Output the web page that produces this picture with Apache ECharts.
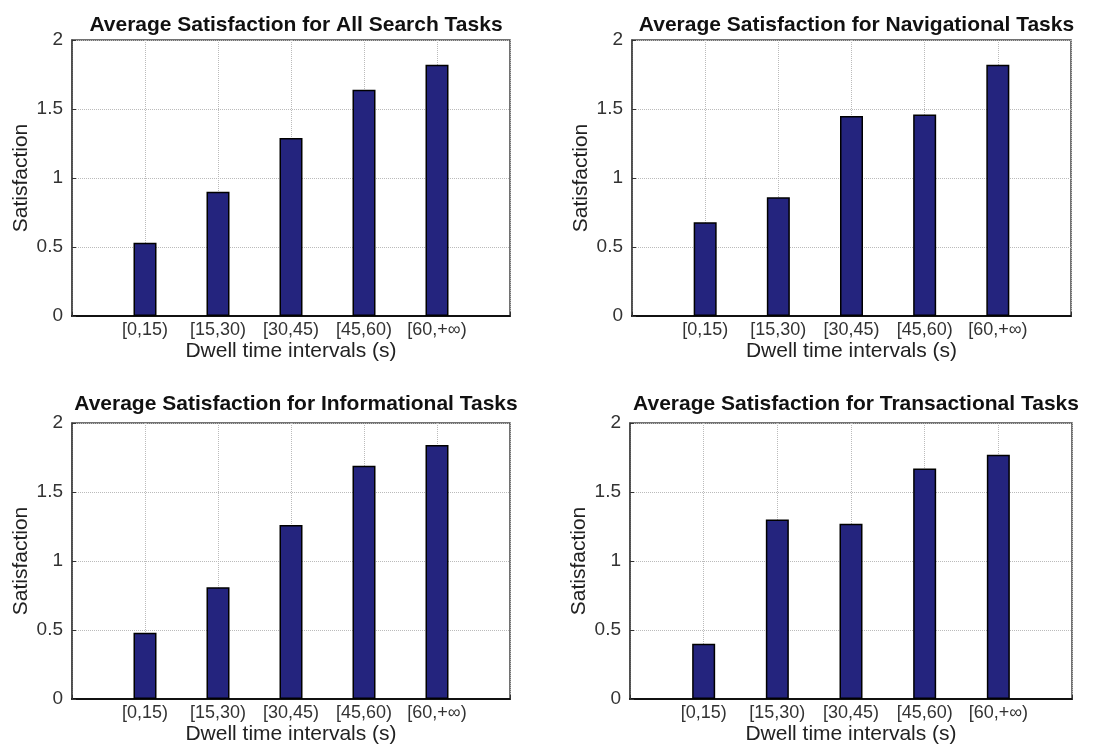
<!DOCTYPE html>
<html>
<head>
<meta charset="utf-8">
<script src="https://cdn.jsdelivr.net/npm/echarts@6/dist/echarts.min.js"></script>
<style>
html,body{margin:0;padding:0;background:#fff;}
#main{width:1097px;height:746px;}
</style>
</head>
<body>
<div id="main"></div>
<script>
// categories and values
var intervals = ['[0,15)', '[15,30)', '[30,45)', '[45,60)', '[60,+\u221e)'];
var titles = [
	'Average Satisfaction for All Search Tasks',
	'Average Satisfaction for Navigational Tasks',
	'Average Satisfaction for Informational Tasks',
	'Average Satisfaction for Transactional Tasks'
];
var allSearch = [0.53, 0.90, 1.29, 1.64, 1.82];
var navigational = [0.68, 0.86, 1.45, 1.46, 1.82];
var informational = [0.48, 0.81, 1.26, 1.69, 1.84];
var transactional = [0.40, 1.30, 1.27, 1.67, 1.77];
var yTicks = ['0', '0.5', '1', '1.5', '2'];

var panels = [allSearch, navigational, informational, transactional];
//each panel box: left, top, width, height, title top
var boxes = [
	[72, 40, 438, 276, 10],
	[632, 40, 439, 276, 10],
	[72, 423, 438, 280, 389],
	[630, 423, 442, 280, 389]
];

var chart = echarts.init(document.getElementById('main'));
var font = 'Liberation Sans, Arial, sans-serif';
var option = {
	backgroundColor: '#fff',
	animation: false,
	title: [],
	grid: [],
	xAxis: [],
	yAxis: [],
	series: []
};
var cats = [''].concat(intervals).concat(['']);
for (var i = 0; i < panels.length; i++) {
	var b = boxes[i];
	option.title.push({
		text: titles[i],
		left: b[0] + b[2] / 2,
		top: b[4],
		textAlign: 'center',
		textStyle: {fontFamily: font, fontSize: 21, fontWeight: 'bold', color: '#111'}
	});
	option.grid.push({
		left: b[0], top: b[1], width: b[2], height: b[3],
		show: true, borderColor: '#444', borderWidth: 1.5, backgroundColor: '#fff'
	});
	option.xAxis.push({
		type: 'category',
		gridIndex: i,
		data: cats,
		boundaryGap: false,
		axisLine: {lineStyle: {color: '#111', width: 2}},
		axisTick: {inside: true, length: 4, lineStyle: {color: '#333'}},
		axisLabel: {interval: 0, fontFamily: font, fontSize: 18, color: '#333', margin: 5},
		splitLine: {show: true, lineStyle: {type: 'dotted', color: '#bbb'}},
		name: 'Dwell time intervals (s)',
		nameLocation: 'middle',
		nameGap: 25,
		nameTextStyle: {fontFamily: font, fontSize: 21, color: '#222'}
	});
	option.yAxis.push({
		type: 'value',
		gridIndex: i,
		min: 0, max: 2, interval: 0.5,
		axisLine: {show: true, lineStyle: {color: '#444', width: 1.5}},
		axisTick: {show: true, inside: true, length: 4, lineStyle: {color: '#333'}},
		axisLabel: {fontFamily: font, fontSize: 19, color: '#333', margin: 9,
			formatter: function (v) { return yTicks[Math.round(v * 2)]; }},
		splitLine: {show: true, lineStyle: {type: 'dotted', color: '#bbb'}},
		name: 'Satisfaction',
		nameLocation: 'middle',
		nameGap: 40,
		nameTextStyle: {fontFamily: font, fontSize: 21, color: '#222'}
	});
	option.series.push({
		type: 'bar',
		xAxisIndex: i,
		yAxisIndex: i,
		barWidth: 23,
		data: intervals.map(function (c, k) { return [c, panels[i][k]]; }),
		itemStyle: {color: '#24247e', borderColor: '#000', borderWidth: 1.5}
	});
}
chart.setOption(option);
</script>
</body>
</html>
